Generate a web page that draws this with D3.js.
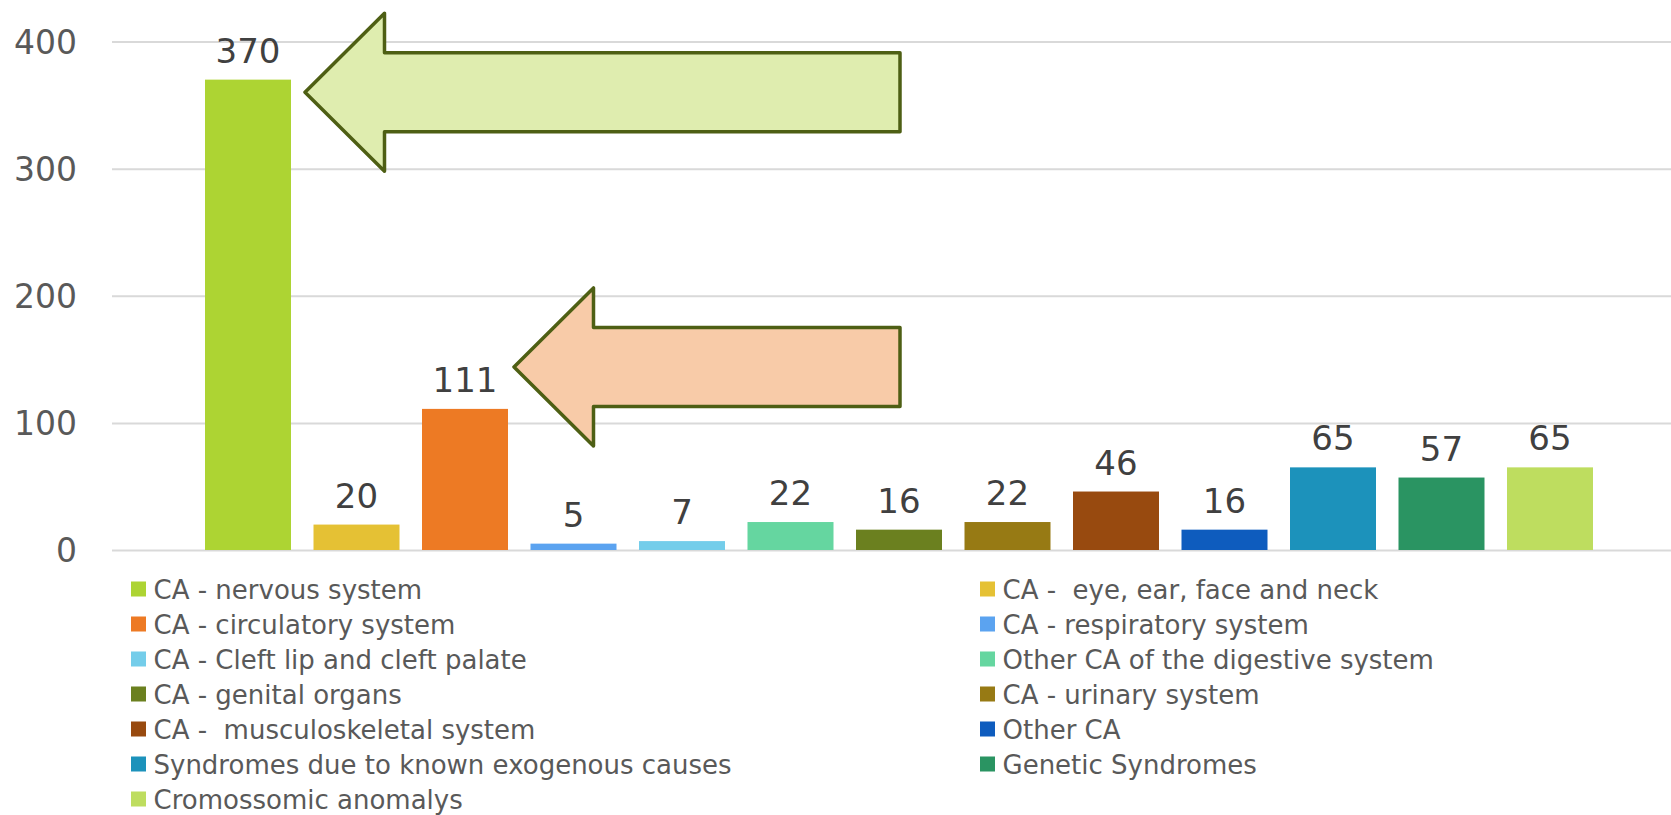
<!DOCTYPE html>
<html>
<head>
<meta charset="utf-8">
<script src="https://cdn.jsdelivr.net/npm/d3@7"></script>
<style>
  html, body { margin: 0; padding: 0; background: #ffffff; }
  svg { display: block; font-family: "DejaVu Sans", sans-serif; }
</style>
</head>
<body>
<svg id="graph-svg" width="1671" height="815"></svg>
<script>
'use strict';

/* -- Chart data ------------------------------------------------------------ */
const categories = [
    'CA - nervous system',
    'CA -  eye, ear, face and neck',
    'CA - circulatory system',
    'CA - respiratory system',
    'CA - Cleft lip and cleft palate',
    'Other CA of the digestive system',
    'CA - genital organs',
    'CA - urinary system',
    'CA -  musculoskeletal system',
    'Other CA',
    'Syndromes due to known exogenous causes',
    'Genetic Syndromes',
    'Cromossomic anomalys'
];
const counts = [370, 20, 111, 5, 7, 22, 16, 22, 46, 16, 65, 57, 65];
const barColors = [
    '#ADD433', '#E5C134', '#ED7A24', '#5BA3F0', '#74CDEA', '#65D6A0', '#6B801F',
    '#977A14', '#984A0F', '#0E5CBE', '#1C92BB', '#2A9462', '#BEDD5F'
];
const yTicks = [0, 100, 200, 300, 400];

/* arrows pointing at the two biggest groups */
const arrowTargets = ['CA - nervous system', 'CA - circulatory system'];
const arrowValues = [360, 144];
const arrowFills = ['#DFEDAF', '#F8CBA8'];

/* -- Layout ---------------------------------------------------------------- */
const svgW = 1671;
const gridLeft = 112;
const plotTop = 41.5;
const plotBottom = 550;
const arrowGaps = [14, 6];
const arrowEndX = 900;

const svg = d3.select('#graph-svg');

/* -- Scales ---------------------------------------------------------------- */
const xScale = d3.scaleBand()
    .domain(categories)
    .range([193.75, 193.75 + 13 * 108.5])
    .paddingInner(0.2074)
    .paddingOuter(0.1037);

const yScale = d3.scaleLinear()
    .domain([0, 400])
    .range([plotBottom, plotTop]);

/* -- Y axis with gridlines ------------------------------------------------- */
const yAxis = d3.axisLeft(yScale)
    .tickValues(yTicks)
    .tickSize(-(svgW - gridLeft))
    .tickPadding(35)
    .tickFormat(d3.format('d'));

const yAxisElement = svg.append('g')
    .attr('class', 'y axis')
    .attr('transform', 'translate(' + gridLeft + ',0)')
    .call(yAxis);

yAxisElement.select('.domain').remove();
yAxisElement.selectAll('line')
    .attr('stroke', '#D9D9D9')
    .attr('stroke-width', 2);
yAxisElement.selectAll('text')
    .attr('fill', '#595959')
    .attr('font-size', 33)
    .attr('font-family', '"DejaVu Sans", sans-serif')
    .attr('dy', '0.36em');

/* -- Bars ------------------------------------------------------------------ */
const data = categories.map(function(c, i) {
    return { key: c, value: counts[i], color: barColors[i] };
});

svg.append('g').attr('id', 'plotCanvas')
    .selectAll('rect.bar')
    .data(data)
    .enter()
    .append('rect')
    .attr('class', 'bar')
    .attr('x', function(d) { return xScale(d.key); })
    .attr('width', xScale.bandwidth())
    .attr('y', function(d) { return yScale(d.value); })
    .attr('height', function(d) { return yScale(0) - yScale(d.value); })
    .attr('fill', function(d) { return d.color; });

/* -- Data labels ----------------------------------------------------------- */
svg.append('g')
    .selectAll('text')
    .data(data)
    .enter()
    .append('text')
    .attr('x', function(d) { return xScale(d.key) + xScale.bandwidth() / 2; })
    .attr('y', function(d) { return yScale(d.value) - 17; })
    .attr('text-anchor', 'middle')
    .attr('font-size', 34)
    .attr('fill', '#404040')
    .text(function(d) { return d.value; });

/* -- Arrows ---------------------------------------------------------------- */
const arrowPath = function(tipX, tipY) {
    const headLen = 79.5, headHalf = 79, shaftHalf = 39.5;
    const p = d3.path();
    p.moveTo(tipX, tipY);
    p.lineTo(tipX + headLen, tipY - headHalf);
    p.lineTo(tipX + headLen, tipY - shaftHalf);
    p.lineTo(arrowEndX, tipY - shaftHalf);
    p.lineTo(arrowEndX, tipY + shaftHalf);
    p.lineTo(tipX + headLen, tipY + shaftHalf);
    p.lineTo(tipX + headLen, tipY + headHalf);
    p.closePath();
    return p.toString();
};

svg.append('g')
    .selectAll('path')
    .data(arrowTargets)
    .enter()
    .append('path')
    .attr('d', function(t, i) {
        return arrowPath(xScale(t) + xScale.bandwidth() + arrowGaps[i], yScale(arrowValues[i]));
    })
    .attr('fill', function(t, i) { return arrowFills[i]; })
    .attr('stroke', '#4E5F14')
    .attr('stroke-width', 3.5)
    .attr('stroke-linejoin', 'round');

/* -- Legend (two columns, row by row) -------------------------------------- */
const legendCols = [131, 980];
const legendTop = 589;
const legendStep = 35;

const legendItem = svg.append('g').attr('class', 'legend')
    .selectAll('g')
    .data(data)
    .enter()
    .append('g')
    .attr('transform', function(d, i) {
        return 'translate(' + legendCols[i % 2] + ',' + (legendTop + Math.floor(i / 2) * legendStep) + ')';
    });

legendItem.append('rect')
    .attr('x', 0)
    .attr('y', -7.5)
    .attr('width', 15)
    .attr('height', 15)
    .attr('fill', function(d) { return d.color; });

legendItem.append('text')
    .attr('x', 22.5)
    .attr('y', 9.5)
    .attr('font-size', 26)
    .attr('fill', '#595959')
    .attr('xml:space', 'preserve')
    .style('white-space', 'pre')
    .text(function(d) { return d.key; });
</script>
</body>
</html>
